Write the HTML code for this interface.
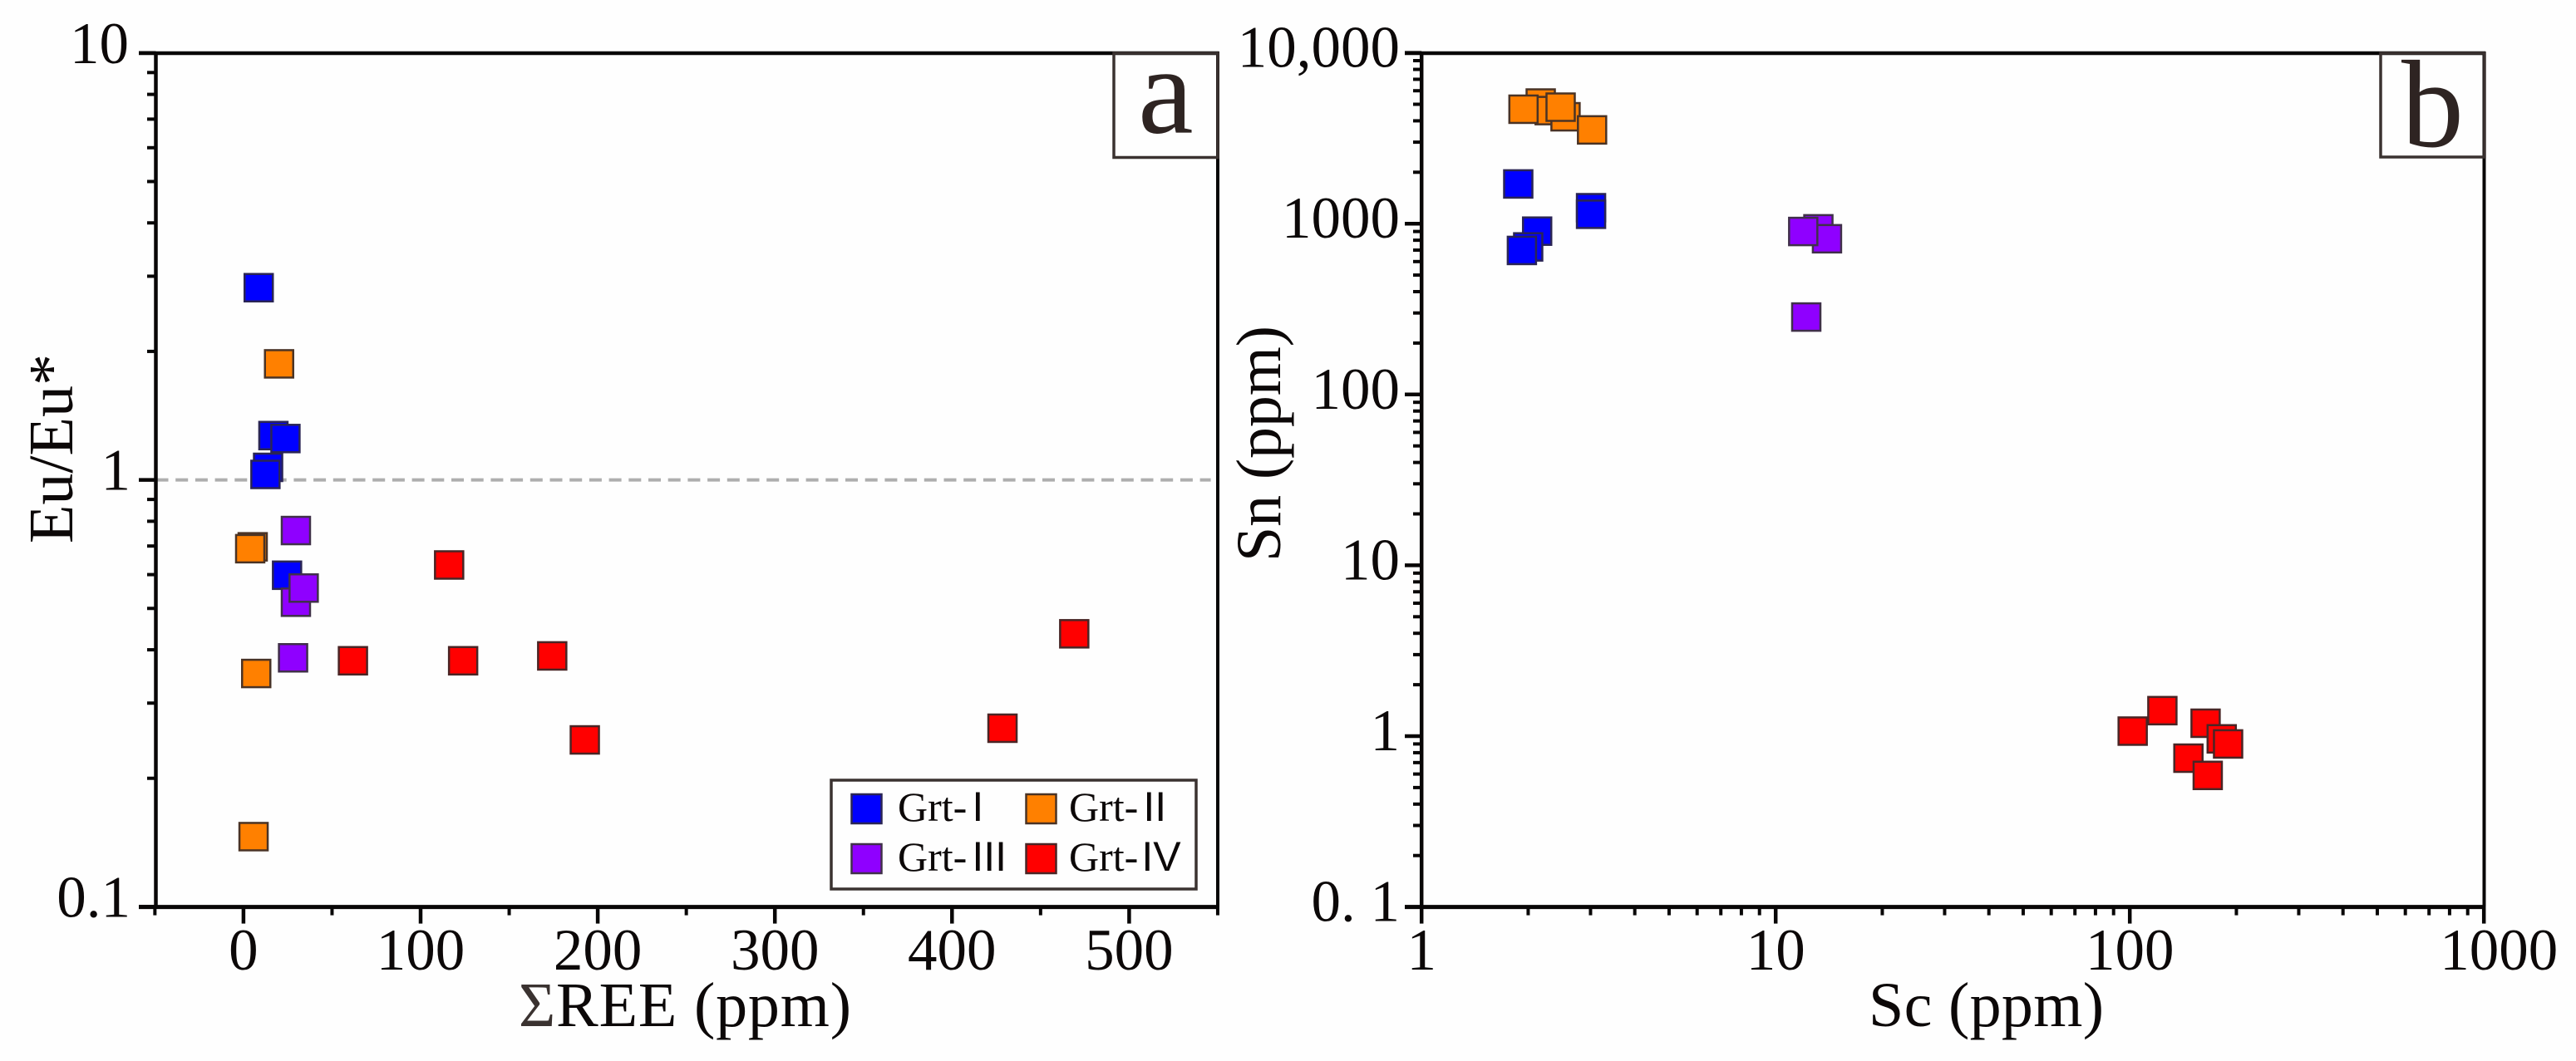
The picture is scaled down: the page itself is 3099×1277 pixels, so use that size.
<!DOCTYPE html>
<html lang="en">
<head>
<meta charset="utf-8">
<title>Eu/Eu* vs ΣREE and Sn vs Sc garnet plots</title>
<style>
  html, body { margin: 0; padding: 0; background: #fefefe; }
  body { width: 3099px; height: 1277px; overflow: hidden; }
  svg { display: block; }
  text { font-family: "Liberation Serif", "Noto Serif CJK SC", serif; fill: #0c0808; }
</style>
</head>
<body>
<svg id="figure" xmlns="http://www.w3.org/2000/svg" width="3099" height="1277" viewBox="0 0 3099 1277">
  <rect x="0" y="0" width="3099" height="1277" fill="#fefefe"/>

  <g id="panel-a">
    <line id="refline" stroke="#aeaeae" stroke-width="4" stroke-dasharray="15 8.7"/>
    <g id="a-marks"></g>
    <g id="a-axes"></g>
    <text x="87" y="654" font-size="76" transform="rotate(-90 87 654)">Eu/Eu*</text>
    <text x="624" y="1235" font-size="76" textLength="400" lengthAdjust="spacing"><tspan fill="#3a3230">Σ</tspan>REE (ppm)</text>
    <rect x="1340" y="64" width="125" height="125.5" fill="none" stroke="#3a3230" stroke-width="3.5"/>
    <text x="1369" y="159.6" font-size="150" style="fill:#2e2422">a</text>

    <g>
      <rect x="1000" y="939" width="439" height="131" fill="#fefefe" stroke="#3a3230" stroke-width="3.5"/>
      <rect x="1024.5" y="956" width="36" height="35" fill="#0000ff" stroke="#2a2555" stroke-width="2.5"/>
      <text x="1080" y="988" font-size="50">Grt-<tspan font-family="Liberation Sans" dx="6">I</tspan></text>
      <rect x="1234.5" y="956" width="36" height="35" fill="#ff8000" stroke="#4a3325" stroke-width="2.5"/>
      <text x="1286" y="988" font-size="50">Grt-<tspan font-family="Liberation Sans" dx="6">II</tspan></text>
      <rect x="1024.5" y="1016" width="36" height="35" fill="#8f00ff" stroke="#40304a" stroke-width="2.5"/>
      <text x="1080" y="1048" font-size="50">Grt-<tspan font-family="Liberation Sans" dx="6">III</tspan></text>
      <rect x="1234.5" y="1016" width="36" height="35" fill="#ff0000" stroke="#4a2525" stroke-width="2.5"/>
      <text x="1286" y="1048" font-size="50">Grt-<tspan font-family="Liberation Sans" dx="4">IV</tspan></text>
    </g>
  </g>

  <g id="panel-b">
    <g id="b-marks"></g>
    <g id="b-axes"></g>
    <text x="1540" y="676" font-size="76" textLength="284" lengthAdjust="spacing" transform="rotate(-90 1540 676)">Sn (ppm)</text>
    <text x="2248" y="1235" font-size="76" textLength="283" lengthAdjust="spacing">Sc (ppm)</text>
    <rect x="2864" y="64" width="125" height="125" fill="none" stroke="#3a3230" stroke-width="3.5"/>
    <text x="2889" y="176" font-size="150" style="fill:#2e2422">b</text>
  </g>
</svg>

<script>
// ---- Panel a data: ΣREE (ppm) vs Eu/Eu* ----
const aGrt1X = [8.6, 16.9, 23.7, 13.9, 12.4, 24.6];
const aGrt1Y = [2.82, 1.27, 1.25, 1.07, 1.03, 0.598];
const aGrt2X = [20.1, 5.2, 3.8, 7.2, 5.7];
const aGrt2Y = [1.87, 0.697, 0.69, 0.352, 0.146];
const aGrt3X = [29.6, 29.6, 34.0, 28.0];
const aGrt3Y = [0.761, 0.517, 0.558, 0.383];
const aGrt4X = [116.1, 61.8, 124, 174.3, 192.7, 469, 428.5];
const aGrt4Y = [0.632, 0.377, 0.377, 0.387, 0.246, 0.436, 0.262];
const aXMajor = [0, 100, 200, 300, 400, 500];
const aXMinor = [-50, 50, 150, 250, 350, 450, 550];
const aXLabels = ["0", "100", "200", "300", "400", "500"];
const aYMajor = [10, 1, 0.1];
const aYLabels = ["10", "1", "0.1"];

// ---- Panel b data: Sc (ppm) vs Sn (ppm) ----
const bGrt1X = [1.875, 3.01, 3.01, 2.12, 2.0, 1.92];
const bGrt1Y = [1708, 1240, 1135, 904, 731, 697];
const bGrt2X = [2.17, 2.30, 2.55, 1.94, 2.47, 3.03];
const bGrt2Y = [5083, 4590, 4224, 4677, 4808, 3539];
const bGrt3X = [13.2, 13.96, 11.96, 12.2];
const bGrt3Y = [933, 816, 900, 284];
const bGrt4X = [101.9, 123.6, 163.7, 181.8, 189.5, 146.4, 166];
const bGrt4Y = [1.07, 1.41, 1.19, 0.964, 0.90, 0.743, 0.589];
const bXMajor = [1, 10, 100, 1000];
const bXLabels = ["1", "10", "100", "1000"];
const bYMajor = [10000, 1000, 100, 10, 1, 0.1];
const bYLabels = ["10,000", "1000", "100", "10", "1", "0. 1"];
const logMinorSteps = [2, 3, 4, 5, 6, 7, 8, 9];

const seriesFill = ["#0000ff", "#ff8000", "#8f00ff", "#ff0000"];
const seriesStroke = ["#2a2555", "#4a3325", "#40304a", "#4a2525"];
const seriesName = ["grt-i", "grt-ii", "grt-iii", "grt-iv"];

// ---- Axis functions ----
const NS = "http://www.w3.org/2000/svg";
const plotTop = 64, plotBottom = 1091.6;
const aLeft = 187.5, aRight = 1465;
const bLeft = 1710.2, bRight = 2988.5;

function axScaleX(v) { return 292.9 + 2.131 * v; }
function axScaleY(v) { return 577.6 - 513.8 * Math.log10(v); }
function bxScaleX(v) { return bLeft + 426 * Math.log10(v); }
function bxScaleY(v) { return plotBottom - 205.6 * (Math.log10(v) + 1); }

function addLine(parent, x1, y1, x2, y2, w) {
  const el = document.createElementNS(NS, "line");
  el.setAttribute("x1", x1);
  el.setAttribute("y1", y1);
  el.setAttribute("x2", x2);
  el.setAttribute("y2", y2);
  el.setAttribute("stroke", "#080606");
  el.setAttribute("stroke-width", w);
  
  
  parent.appendChild(el);
}

function addLabel(parent, str, x, y, anchor) {
  const el = document.createElementNS(NS, "text");
  el.setAttribute("x", x);
  el.setAttribute("y", y);
  el.setAttribute("font-size", "71");
  el.setAttribute("text-anchor", anchor);
  el.textContent = str;
  
  
  parent.appendChild(el);
}

function addSeries(parent, xs, ys, sx, sy, idx) {
  xs.forEach(function (v, i) {
    const el = document.createElementNS(NS, "rect");
    el.setAttribute("x", sx(v) - 17);
    el.setAttribute("y", sy(ys[i]) - 16.5);
    el.setAttribute("width", 34);
    el.setAttribute("height", 33);
    el.setAttribute("fill", seriesFill[idx]);
    el.setAttribute("stroke", seriesStroke[idx]);
    el.setAttribute("stroke-width", 2.5);
    
    
    parent.appendChild(el);
  });
}

// ---- Panel a ----
const aAxes = document.getElementById("a-axes");
const aMarks = document.getElementById("a-marks");
addSeries(aMarks, aGrt1X, aGrt1Y, axScaleX, axScaleY, 0);
addSeries(aMarks, aGrt2X, aGrt2Y, axScaleX, axScaleY, 1);
addSeries(aMarks, aGrt3X, aGrt3Y, axScaleX, axScaleY, 2);
addSeries(aMarks, aGrt4X, aGrt4Y, axScaleX, axScaleY, 3);

const ref = document.getElementById("refline");
ref.setAttribute("x1", aLeft);
ref.setAttribute("x2", 1456.6);
ref.setAttribute("y1", axScaleY(1));
ref.setAttribute("y2", axScaleY(1));

addLine(aAxes, aLeft, plotTop - 2, aLeft, plotBottom, 4.5);
addLine(aAxes, aRight, plotTop - 2, aRight, plotBottom, 4);
addLine(aAxes, 167, plotTop, aRight + 1.5, plotTop, 4.5);
addLine(aAxes, 167, plotBottom, aRight + 1.5, plotBottom, 5);

aYMajor.forEach(function (v, i) {
  addLine(aAxes, 167, axScaleY(v), aLeft, axScaleY(v), 4.5);
  addLabel(aAxes, aYLabels[i], i === 0 ? 155 : 157, axScaleY(v) + 12, "end");
  if (i < aYMajor.length - 1) {
    logMinorSteps.forEach(function (m) {
      const val = aYMajor[i + 1] * m;
      addLine(aAxes, 177, axScaleY(val), aLeft, axScaleY(val), 4);
    });
  }
});
aXMajor.forEach(function (v, i) {
  addLine(aAxes, axScaleX(v), plotBottom, axScaleX(v), plotBottom + 20, 4.5);
  addLabel(aAxes, aXLabels[i], axScaleX(v), 1167, "middle");
});
aXMinor.forEach(function (v) {
  addLine(aAxes, axScaleX(v), plotBottom, axScaleX(v), plotBottom + 10, 4);
});

// ---- Panel b ----
const bAxes = document.getElementById("b-axes");
const bMarks = document.getElementById("b-marks");
addSeries(bMarks, bGrt1X, bGrt1Y, bxScaleX, bxScaleY, 0);
addSeries(bMarks, bGrt2X, bGrt2Y, bxScaleX, bxScaleY, 1);
addSeries(bMarks, bGrt3X, bGrt3Y, bxScaleX, bxScaleY, 2);
addSeries(bMarks, bGrt4X, bGrt4Y, bxScaleX, bxScaleY, 3);

addLine(bAxes, bLeft, plotTop - 2, bLeft, plotBottom, 4.5);
addLine(bAxes, bRight, plotTop - 2, bRight, plotBottom, 4);
addLine(bAxes, 1690, plotTop, bRight + 1.5, plotTop, 4.5);
addLine(bAxes, 1690, plotBottom, bRight + 1.5, plotBottom, 5);

bYMajor.forEach(function (v, i) {
  addLine(bAxes, 1690, bxScaleY(v), bLeft, bxScaleY(v), 4.5);
  addLabel(bAxes, bYLabels[i], 1684, bxScaleY(v) + 17, "end");
  if (i < bYMajor.length - 1) {
    logMinorSteps.forEach(function (m) {
      const val = bYMajor[i + 1] * m;
      addLine(bAxes, 1700, bxScaleY(val), bLeft, bxScaleY(val), 4);
    });
  }
});
const lastLabelNudge = 18;
bXMajor.forEach(function (v, i) {
  addLine(bAxes, bxScaleX(v), plotBottom, bxScaleX(v), plotBottom + 20, 4.5);
  const nudge = i === bXMajor.length - 1 ? lastLabelNudge : 0;
  addLabel(bAxes, bXLabels[i], bxScaleX(v) + nudge, 1167, "middle");
  if (i < bXMajor.length - 1) {
    logMinorSteps.forEach(function (m) {
      const val = v * m;
      addLine(bAxes, bxScaleX(val), plotBottom, bxScaleX(val), plotBottom + 10, 4);
    });
  }
});
</script>
</body>
</html>
